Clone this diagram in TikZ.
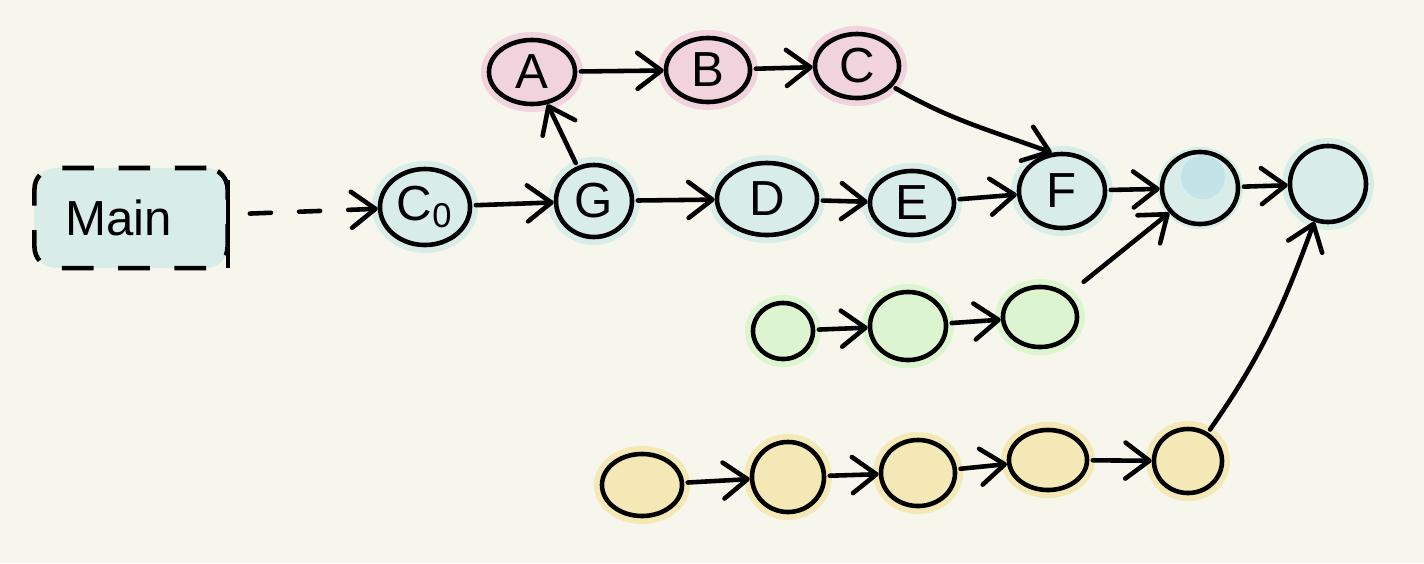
\documentclass[tikz,border=0pt]{standalone}
\usepackage{fontspec}
\setmainfont{Liberation Sans}
\usetikzlibrary{shapes.geometric,arrows.meta}
\definecolor{paper}{HTML}{F7F6EC}
\definecolor{bluefill}{HTML}{D8EDE8}
\definecolor{bluedot}{HTML}{C2E4E8}
\definecolor{pinkfill}{HTML}{F0D3DD}
\definecolor{greenfill}{HTML}{DCF5D0}
\definecolor{yellowfill}{HTML}{F4E8B6}
\tikzset{
  blob/.style={ellipse, draw=black, line width=1.3pt, inner sep=0pt,
    font=\fontsize{14}{17}\selectfont},
  blueblob/.style={blob, fill=bluefill, preaction={draw=bluefill, line width=1.6mm}},
  pinkblob/.style={blob, fill=pinkfill, preaction={draw=pinkfill, line width=1.6mm}},
  greenblob/.style={blob, fill=greenfill, preaction={draw=greenfill, line width=1.6mm}},
  yellowblob/.style={blob, fill=yellowfill, preaction={draw=yellowfill, line width=1.6mm}},
  arr/.style={line width=1.3pt, line cap=round,
    -{Straight Barb[length=2.4mm,width=3.6mm,line cap=round,line join=round]},
    shorten <=1pt, shorten >=0pt},
  mainbox/.style={rectangle, rounded corners=6pt, draw=black, line width=1.3pt,
    dash pattern=on 9pt off 7pt, fill=bluefill, minimum width=1.93cm,
    minimum height=1.0cm, font=\fontsize{14}{17}\selectfont}
}
\begin{document}
\begin{tikzpicture}[x=0.01cm,y=-0.01cm]
\useasboundingbox[fill=paper] (0,0) rectangle (1424,563);

% entry box
\node[mainbox] (main) at (131,218) {\hspace*{-0.25cm}Main};
\draw[line width=1.3pt] (228,180) -- (228,268);

% main line
\node[blueblob, minimum width=0.90cm, minimum height=0.76cm] (c0) at (425,207) {C\textsubscript{0}};
\node[blueblob, minimum width=0.76cm, minimum height=0.72cm] (g) at (594,201) {G};
\node[blueblob, minimum width=1.00cm, minimum height=0.72cm] (d) at (767,199) {D};
\node[blueblob, minimum width=0.84cm, minimum height=0.64cm] (e) at (912,203) {E};
\node[blueblob, minimum width=0.86cm, minimum height=0.74cm] (f) at (1062,191) {F};
\fill[bluefill] (1200,188) ellipse (43 and 41);
\fill[bluedot] (1203,177) circle (22);
\node[blob, minimum width=0.76cm, minimum height=0.72cm] (h) at (1200,188) {};
\node[blueblob, minimum width=0.76cm, minimum height=0.76cm] (i) at (1328,184) {};

% upper branch
\node[pinkblob, minimum width=0.86cm, minimum height=0.64cm] (a) at (532,72) {A};
\node[pinkblob, minimum width=0.84cm, minimum height=0.64cm] (b) at (708,70) {B};
\node[pinkblob, minimum width=0.84cm, minimum height=0.64cm] (c) at (857,66) {C};

% green branch
\node[greenblob, minimum width=0.60cm, minimum height=0.56cm] (g1) at (783,331) {};
\node[greenblob, minimum width=0.76cm, minimum height=0.68cm] (g2) at (908,326) {};
\node[greenblob, minimum width=0.74cm, minimum height=0.60cm] (g3) at (1040,317) {};

% yellow branch
\node[yellowblob, minimum width=0.80cm, minimum height=0.62cm] (y1) at (642,485) {};
\node[yellowblob, minimum width=0.72cm, minimum height=0.70cm] (y2) at (788,477) {};
\node[yellowblob, minimum width=0.74cm, minimum height=0.66cm] (y3) at (918,473) {};
\node[yellowblob, minimum width=0.78cm, minimum height=0.60cm] (y4) at (1048,460) {};
\node[yellowblob, minimum width=0.68cm, minimum height=0.64cm] (y5) at (1188,461) {};

% connectors
\draw[arr, dash pattern=on 6pt off 8pt, shorten <=0.2cm] (main) -- (c0);
\draw[arr] (c0) -- (g);
\draw[arr] (g) -- (a);
\draw[arr] (a) -- (b);
\draw[arr] (b) -- (c);
\draw[arr] (c) to[out=-30,in=160] (f.105);
\draw[arr] (g) -- (d);
\draw[arr] (d) -- (e);
\draw[arr] (e) -- (f);
\draw[arr] (f) -- (h);
\draw[arr] (h) -- (i);
\draw[arr] (g1) -- (g2);
\draw[arr] (g2) -- (g3);
\draw[arr, shorten <=0.2cm] (g3) -- (h);
\draw[arr] (y1) -- (y2);
\draw[arr] (y2) -- (y3);
\draw[arr] (y3) -- (y4);
\draw[arr] (y4) -- (y5);
\draw[arr] (y5) to[out=55,in=-110] (i);
\end{tikzpicture}
\end{document}
